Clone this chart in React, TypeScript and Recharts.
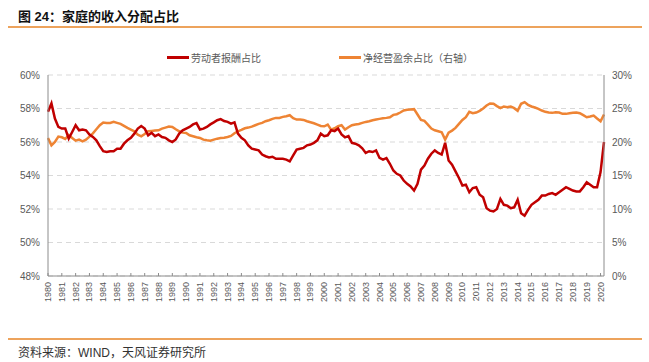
import { LineChart, Line, XAxis, YAxis, CartesianGrid } from "recharts";

// year tick labels; data is quarterly from 1980Q1 to 2020Q2
const yearLabels = [
  "1980", "1981", "1982", "1983", "1984", "1985", "1986", "1987", "1988", "1989",
  "1990", "1991", "1992", "1993", "1994", "1995", "1996", "1997", "1998", "1999",
  "2000", "2001", "2002", "2003", "2004", "2005", "2006", "2007", "2008", "2009",
  "2010", "2011", "2012", "2013", "2014", "2015", "2016", "2017", "2018", "2019",
  "2020",
];

// 劳动者报酬占比 (%), left axis
const laborShare = [
  57.8, 58.3, 57.4, 56.9, 56.8, 56.8, 56.2, 56.6, 57.0, 56.7,
  56.75, 56.7, 56.45, 56.3, 56.1, 55.75, 55.45, 55.4, 55.45, 55.45,
  55.6, 55.6, 55.9, 56.1, 56.25, 56.5, 56.8, 56.95, 56.8, 56.4,
  56.55, 56.35, 56.45, 56.3, 56.25, 56.1, 56.0, 56.15, 56.5, 56.7,
  56.8, 56.9, 57.05, 57.13, 56.75, 56.8, 56.9, 57.05, 57.17, 57.3,
  57.37, 57.25, 57.2, 57.1, 57.17, 56.5, 56.25, 56.1, 55.8, 55.6,
  55.55, 55.5, 55.25, 55.15, 55.08, 55.12, 55.0, 55.0, 55.0, 54.95,
  54.85, 55.2, 55.55, 55.6, 55.65, 55.8, 55.85, 55.95, 56.1, 56.5,
  56.35, 56.4, 56.7, 56.65, 56.8, 56.45, 56.28, 56.35, 55.95, 55.9,
  55.8, 55.62, 55.35, 55.45, 55.4, 55.5, 55.05, 54.95, 55.04, 54.7,
  54.3, 54.1, 54.0, 53.7, 53.5, 53.35, 53.1, 53.5, 54.35, 54.6,
  55.0, 55.3, 55.5, 55.35, 55.25, 55.95, 54.9, 54.65, 54.25, 53.85,
  53.4, 53.45, 53.0, 53.25, 53.3, 52.85, 52.7, 52.05, 51.9, 51.85,
  52.0, 52.6, 52.25, 52.2, 52.05, 52.1, 52.55, 51.75, 51.6, 51.95,
  52.25, 52.4, 52.55, 52.8, 52.8, 52.9, 52.95, 52.85, 53.0, 53.15,
  53.3, 53.2, 53.1, 53.05, 53.05, 53.3, 53.6, 53.45, 53.3, 53.3,
  54.2, 56.0,
];

// 净经营盈余占比 (%), right axis
const surplusShare = [
  20.6, 19.5, 20.0, 20.8, 20.7, 20.45, 21.05, 20.6, 20.2, 20.35,
  20.1, 20.35, 20.8, 21.3, 21.9, 22.5, 22.9, 22.85, 22.85, 23.0,
  22.85, 22.7, 22.4, 22.1, 21.85, 21.6, 21.1, 20.85, 21.2, 21.6,
  21.65, 21.7, 21.75, 22.0, 22.15, 22.3, 22.25, 21.9, 21.6, 21.4,
  21.35, 21.0, 20.85, 20.7, 20.6, 20.35, 20.25, 20.2, 20.35, 20.5,
  20.6, 20.65, 20.75, 20.9, 21.3, 21.6, 21.8, 22.05, 22.15, 22.3,
  22.5, 22.7, 22.85, 23.1, 23.25, 23.45, 23.6, 23.6, 23.75, 23.85,
  24.0, 23.55, 23.35, 23.35, 23.3, 23.1, 22.95, 22.8, 22.6, 22.4,
  22.35, 22.6, 21.85, 22.05, 22.35, 22.5, 21.85, 22.2, 22.5, 22.6,
  22.7, 22.85, 23.0, 23.1, 23.25, 23.35, 23.45, 23.55, 23.6, 23.7,
  24.05, 24.15, 24.4, 24.7, 24.8, 24.85, 24.9, 24.1, 23.3, 23.15,
  22.6, 22.0, 21.75, 21.6, 21.45, 20.35, 21.4, 21.7, 22.1, 22.7,
  23.3, 23.7, 24.5, 24.3, 24.4, 24.65, 25.0, 25.45, 25.75, 25.7,
  25.35, 25.05, 25.3, 25.2, 25.3, 25.05, 24.65, 25.7, 25.95, 25.55,
  25.3, 25.15, 24.95, 24.7, 24.5, 24.4, 24.35, 24.45, 24.4, 24.2,
  24.2, 24.3, 24.35, 24.4, 24.3, 24.0, 23.7, 23.8, 23.95, 23.5,
  23.1, 24.1,
];

const leftTicks = [48, 50, 52, 54, 56, 58, 60];
const rightTicks = [0, 5, 10, 15, 20, 25, 30];

const quarters = yearLabels
  .flatMap((y) => ["Q1", "Q2", "Q3", "Q4"].map((q) => y + q))
  .slice(0, laborShare.length);

const data = quarters.map((q, i) => ({
  q,
  labor: laborShare[i],
  surplus: surplusShare[i],
}));

const RED = "#C00000";
const ORANGE = "#EE8434";
const RULE = "#EDA35C";
const AXIS = "#8c8c8c";
const LABEL = "#595959";
const FONT = '"Liberation Sans", Arial, "Noto Sans CJK SC", sans-serif';

const YearTick = (props: any) => {
  const { x, y, payload } = props;
  return (
    <g transform={`translate(${x},${y})`}>
      <line x1={0} y1={-6} x2={0} y2={-9} stroke={AXIS} />
      <text
        transform="rotate(-90)"
        textAnchor="end"
        dominantBaseline="central"
        fontSize={9}
        fill={LABEL}
        fontFamily={FONT}
      >
        {String(payload.value).slice(0, 4)}
      </text>
    </g>
  );
};

function LegendItem({ color, label }: { color: string; label: string }) {
  return (
    <div style={{ display: "flex", alignItems: "center" }}>
      <div style={{ width: 22, height: 3, background: color, marginRight: 2 }} />
      <span style={{ fontSize: 10, color: LABEL }}>{label}</span>
    </div>
  );
}

export default function App() {
  return (
    <div
      style={{
        position: "absolute",
        left: 0,
        top: 0,
        width: 649,
        height: 362,
        background: "#fff",
        overflow: "hidden",
        fontFamily: FONT,
      }}
    >
      <div
        style={{
          position: "absolute",
          left: 18,
          top: 6,
          fontSize: 13,
          fontWeight: "bold",
          color: "#111",
          whiteSpace: "nowrap",
        }}
      >
        图 24：家庭的收入分配占比
      </div>
      <div style={{ position: "absolute", left: 8, top: 26, width: 634, height: 2, background: RULE }} />

      <div style={{ position: "absolute", left: 167, top: 50, display: "flex", gap: 78 }}>
        <LegendItem color={RED} label="劳动者报酬占比" />
        <LegendItem color={ORANGE} label="净经营盈余占比（右轴）" />
      </div>

      <LineChart
        width={649}
        height={362}
        data={data}
        margin={{ top: 75, right: 5, bottom: 46, left: 8 }}
      >
        <CartesianGrid
          yAxisId="left"
          vertical={false}
          stroke="#d9d9d9"
          strokeDasharray="5 4"
        />
        <XAxis
          dataKey="q"
          ticks={yearLabels.map((y) => y + "Q1")}
          interval={0}
          height={40}
          tickSize={4}
          tickMargin={2}
          tickLine={false}
          axisLine={{ stroke: AXIS }}
          tick={<YearTick />}
        />
        <YAxis
          yAxisId="left"
          domain={[48, 60]}
          ticks={leftTicks}
          width={40}
          tickLine={false}
          axisLine={{ stroke: AXIS }}
          tick={{ fontSize: 10, fill: LABEL, fontFamily: FONT }}
          tickFormatter={(v) => `${v}%`}
        />
        <YAxis
          yAxisId="right"
          orientation="right"
          domain={[0, 30]}
          ticks={rightTicks}
          width={40}
          tickLine={false}
          axisLine={{ stroke: AXIS }}
          tick={{ fontSize: 10, fill: LABEL, fontFamily: FONT }}
          tickFormatter={(v) => `${v}%`}
        />
        <Line
          yAxisId="right"
          dataKey="surplus"
          type="linear"
          stroke={ORANGE}
          strokeWidth={2.5}
          dot={false}
          isAnimationActive={false}
        />
        <Line
          yAxisId="left"
          dataKey="labor"
          type="linear"
          stroke={RED}
          strokeWidth={2.5}
          dot={false}
          isAnimationActive={false}
        />
      </LineChart>

      <div style={{ position: "absolute", left: 8, top: 338, width: 634, height: 2, background: RULE }} />
      <div
        style={{
          position: "absolute",
          left: 18,
          top: 343,
          fontSize: 12,
          color: "#333",
          whiteSpace: "nowrap",
        }}
      >
        资料来源：WIND，天风证券研究所
      </div>
    </div>
  );
}
